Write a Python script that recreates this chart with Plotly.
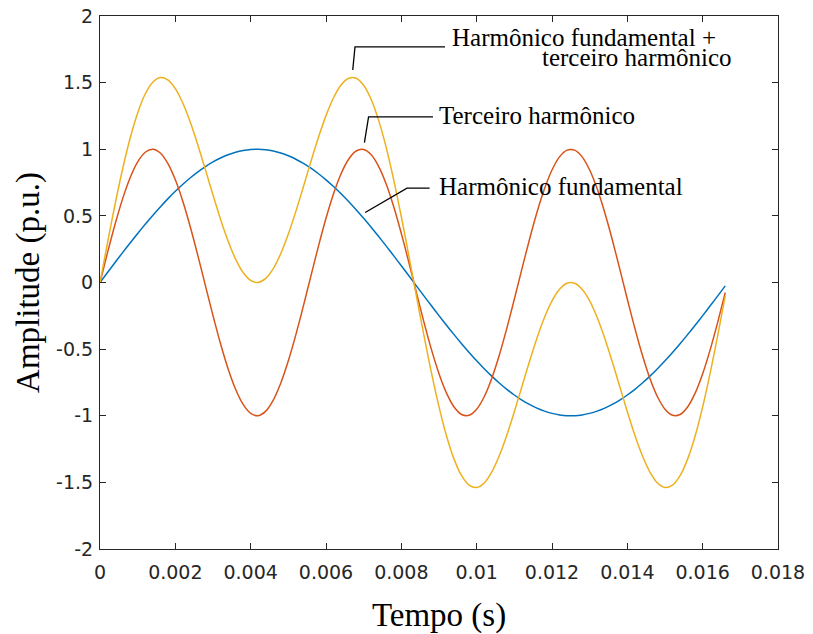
import plotly.graph_objects as go

# Time samples (s), every 0.2 ms
tempo = [0.0000, 0.0002, 0.0004, 0.0006, 0.0008, 0.0010, 0.0012, 0.0014, 0.0016, 0.0018,
         0.0020, 0.0022, 0.0024, 0.0026, 0.0028, 0.0030, 0.0032, 0.0034, 0.0036, 0.0038,
         0.0040, 0.0042, 0.0044, 0.0046, 0.0048, 0.0050, 0.0052, 0.0054, 0.0056, 0.0058,
         0.0060, 0.0062, 0.0064, 0.0066, 0.0068, 0.0070, 0.0072, 0.0074, 0.0076, 0.0078,
         0.0080, 0.0082, 0.0084, 0.0086, 0.0088, 0.0090, 0.0092, 0.0094, 0.0096, 0.0098,
         0.0100, 0.0102, 0.0104, 0.0106, 0.0108, 0.0110, 0.0112, 0.0114, 0.0116, 0.0118,
         0.0120, 0.0122, 0.0124, 0.0126, 0.0128, 0.0130, 0.0132, 0.0134, 0.0136, 0.0138,
         0.0140, 0.0142, 0.0144, 0.0146, 0.0148, 0.0150, 0.0152, 0.0154, 0.0156, 0.0158,
         0.0160, 0.0162, 0.0164, 0.0166]

fundamental = [0.0000, 0.0753, 0.1502, 0.2243, 0.2970, 0.3681, 0.4371, 0.5036, 0.5672, 0.6276,
               0.6845, 0.7374, 0.7861, 0.8305, 0.8701, 0.9048, 0.9343, 0.9585, 0.9773, 0.9905,
               0.9980, 0.9999, 0.9961, 0.9867, 0.9716, 0.9511, 0.9250, 0.8939, 0.8576, 0.8163,
               0.7705, 0.7203, 0.6660, 0.6080, 0.5464, 0.4818, 0.4144, 0.3446, 0.2730, 0.1997,
               0.1253, 0.0502, -0.0251, -0.1004, -0.1750, -0.2487, -0.3210, -0.3913, -0.4596, -0.5251,
               -0.5878, -0.6470, -0.7027, -0.7543, -0.8016, -0.8443, -0.8824, -0.9153, -0.9430, -0.9654,
               -0.9823, -0.9936, -0.9993, -0.9993, -0.9936, -0.9823, -0.9654, -0.9430, -0.9153, -0.8824,
               -0.8443, -0.8016, -0.7543, -0.7027, -0.6470, -0.5878, -0.5251, -0.4596, -0.3913, -0.3210,
               -0.2487, -0.1750, -0.1004, -0.0251]

terceiro = [0.0000, 0.2243, 0.4371, 0.6276, 0.7861, 0.9048, 0.9773, 0.9999, 0.9716, 0.8939,
            0.7705, 0.6080, 0.4144, 0.1997, -0.0251, -0.2487, -0.4596, -0.6470, -0.8016, -0.9153,
            -0.9823, -0.9993, -0.9654, -0.8824, -0.7543, -0.5878, -0.3913, -0.1750, 0.0502, 0.2730,
            0.4818, 0.6660, 0.8163, 0.9250, 0.9867, 0.9980, 0.9585, 0.8701, 0.7374, 0.5672,
            0.3681, 0.1502, -0.0753, -0.2970, -0.5036, -0.6845, -0.8305, -0.9343, -0.9905, -0.9961,
            -0.9511, -0.8576, -0.7203, -0.5464, -0.3446, -0.1253, 0.1004, 0.3210, 0.5251, 0.7027,
            0.8443, 0.9430, 0.9936, 0.9936, 0.9430, 0.8443, 0.7027, 0.5251, 0.3210, 0.1004,
            -0.1253, -0.3446, -0.5464, -0.7203, -0.8576, -0.9511, -0.9961, -0.9905, -0.9343, -0.8305,
            -0.6845, -0.5036, -0.2970, -0.0753]

soma = [0.0000, 0.2996, 0.5873, 0.8519, 1.0831, 1.2729, 1.4144, 1.5035, 1.5388, 1.5215,
        1.4550, 1.3454, 1.2005, 1.0302, 0.8450, 0.6561, 0.4747, 0.3115, 0.1757, 0.0752,
        0.0157, 0.0006, 0.0307, 0.1043, 0.2173, 0.3633, 0.5337, 0.7189, 0.9078, 1.0893,
        1.2523, 1.3863, 1.4823, 1.5330, 1.5331, 1.4798, 1.3729, 1.2147, 1.0104, 0.7669,
        0.4934, 0.2004, -0.1004, -0.3974, -0.6786, -0.9332, -1.1515, -1.3256, -1.4501, -1.5212,
        -1.5389, -1.5046, -1.4230, -1.3007, -1.1462, -0.9696, -0.7820, -0.5943, -0.4179, -0.2627,
        -0.1380, -0.0506, -0.0057, -0.0057, -0.0506, -0.1380, -0.2627, -0.4179, -0.5943, -0.7820,
        -0.9696, -1.1462, -1.3007, -1.4230, -1.5046, -1.5389, -1.5212, -1.4501, -1.3256, -1.1515,
        -0.9332, -0.6786, -0.3974, -0.1004]

# Tick labels
x_ticks = [0, 0.002, 0.004, 0.006, 0.008, 0.010, 0.012, 0.014, 0.016, 0.018]
x_tick_text = ["0", "0.002", "0.004", "0.006", "0.008", "0.01", "0.012", "0.014", "0.016", "0.018"]
y_ticks = [-2, -1.5, -1, -0.5, 0, 0.5, 1, 1.5, 2]
y_tick_text = ["-2", "-1.5", "-1", "-0.5", "0", "0.5", "1", "1.5", "2"]

# Leader lines for the labels (data coordinates)
leader_soma_x = [0.00671, 0.00677, 0.00916]
leader_soma_y = [1.595, 1.768, 1.768]
leader_terc_x = [0.00702, 0.00713, 0.00884]
leader_terc_y = [1.050, 1.243, 1.243]
leader_fund_x = [0.00704, 0.00815, 0.00875]
leader_fund_y = [0.525, 0.708, 0.708]

blue = "#0072BD"
orange = "#D95319"
yellow = "#EDB120"
serif = "Liberation Serif, Times New Roman, serif"

fig = go.Figure()
for y, c in [(fundamental, blue), (terceiro, orange), (soma, yellow)]:
    fig.add_trace(go.Scatter(x=tempo, y=y, mode="lines",
                             line=dict(color=c, width=1.5, shape="spline", smoothing=0.8),
                             showlegend=False, hoverinfo="skip"))

for lx, ly in [(leader_soma_x, leader_soma_y), (leader_terc_x, leader_terc_y),
               (leader_fund_x, leader_fund_y)]:
    fig.add_trace(go.Scatter(x=lx, y=ly, mode="lines", line=dict(color="black", width=1.3),
                             showlegend=False, hoverinfo="skip"))

ann_font = dict(family=serif, size=25, color="black")
fig.add_annotation(x=0.00928, y=1.835, text="Harmônico fundamental +", showarrow=False,
                   xanchor="left", yanchor="middle", font=ann_font)
fig.add_annotation(x=0.01682, y=1.69, text="terceiro harmônico", showarrow=False,
                   xanchor="right", yanchor="middle", font=ann_font)
fig.add_annotation(x=0.00896, y=1.25, text="Terceiro harmônico", showarrow=False,
                   xanchor="left", yanchor="middle", font=ann_font)
fig.add_annotation(x=0.00896, y=0.72, text="Harmônico fundamental", showarrow=False,
                   xanchor="left", yanchor="middle", font=ann_font)

axis_common = dict(showgrid=False, zeroline=False, showline=True, mirror="ticks",
                   linecolor="#262626", linewidth=1, ticks="inside", ticklen=6,
                   tickcolor="#262626", tickwidth=1, automargin=False,
                   ticklabeloverflow="allow",
                   tickfont=dict(family="DejaVu Sans", size=19, color="#262626"))

fig.update_xaxes(range=[0, 0.018], tickvals=x_ticks, ticktext=x_tick_text, ticklabelstandoff=6,
                 title=dict(text="Tempo (s)", font=dict(family=serif, size=33, color="black"),
                            standoff=26), **axis_common)
fig.update_yaxes(range=[-2, 2], tickvals=y_ticks, ticktext=y_tick_text, ticklabelstandoff=2,
                 title=dict(text="Amplitude (p.u.)", font=dict(family=serif, size=33, color="black"),
                            standoff=6), **axis_common)

fig.update_layout(width=805, height=626, margin=dict(l=92, r=35, t=8, b=85),
                  paper_bgcolor="white", plot_bgcolor="white")

fig.write_html("out.html")
